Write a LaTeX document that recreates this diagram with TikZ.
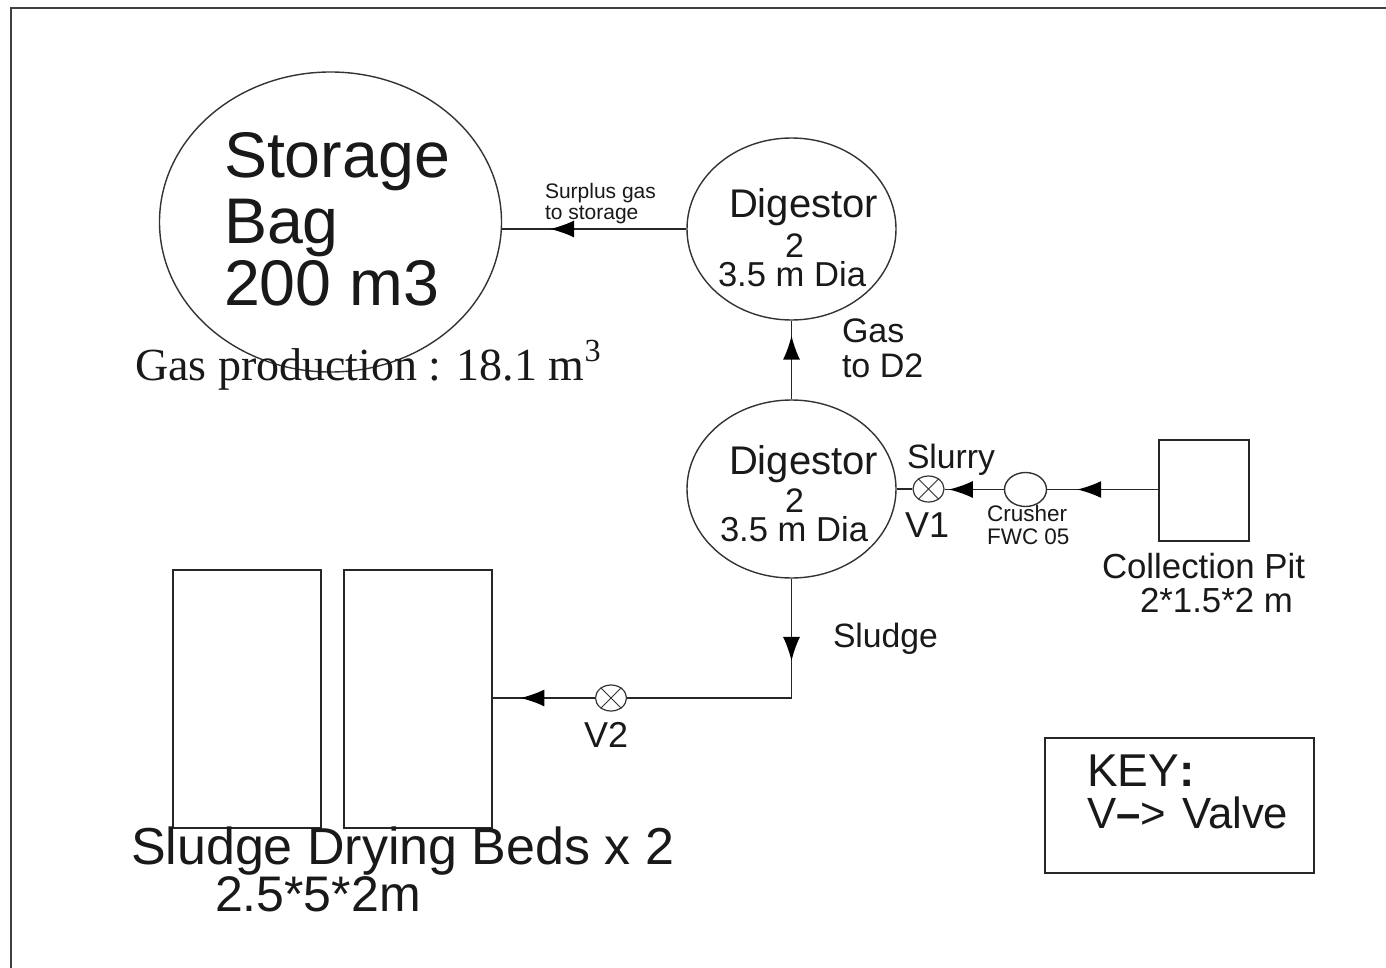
\documentclass[tikz,border=0pt]{standalone}
\usepackage{fontspec}
\setmainfont{Liberation Sans}
\newfontfamily\serifface{Liberation Serif}
\usetikzlibrary{arrows.meta,decorations.markings,shapes.geometric}
\newcommand{\fs}[1]{\fontsize{\dimexpr#1pt/2\relax}{\dimexpr#1pt/2\relax}\selectfont}
\tikzset{
  vessel/.style={draw=black!80,line width=0.7pt,ellipse,inner sep=0pt,minimum width=#1},
  tank/.style={draw=black!85,line width=0.8pt,rectangle,inner sep=0pt},
  pipe/.style={draw=black!85,line width=0.7pt},
  tipat/.style={postaction={decorate},decoration={markings,mark=at position #1 with {\arrow{Latex[length=12pt,width=8.5pt,black]}}}},
  lbl/.style={anchor=base west,inner sep=0pt,outer sep=0pt,text=black!90},
  valve/.style={draw=black!80,line width=0.6pt,ellipse,inner sep=0pt,minimum width=15.5pt,minimum height=13pt}
}
\begin{document}
\begin{tikzpicture}[x=0.5pt,y=-0.5pt]
\useasboundingbox (0,0) rectangle (1386,968);
\fill[white] (0,0) rectangle (1386,968);
% page frame
\coordinate (fa) at (11,968);
\coordinate (fb) at (11,8);
\coordinate (fc) at (1386,8);
\draw[black!75,line width=1pt] (fa) -- (fb) -- (fc);
% vessels
\node[vessel=171pt,minimum height=150pt] (bag) at (330.5,222) {};
\node[vessel=104.5pt,minimum height=91pt] (d1) at (791.5,229) {};
\node[vessel=104.5pt,minimum height=89pt] (d2) at (791.5,489) {};
\node[valve] (v1) at (928.5,489) {};
\draw[black!80,line width=0.5pt] (v1.45) -- (v1.225) (v1.135) -- (v1.315);
\node[vessel=21pt,minimum height=17pt] (cr) at (1025.5,489.5) {};
\node[tank,minimum width=45pt,minimum height=50.5pt] (pit) at (1204,490.5) {};
\node[tank,minimum width=74pt,minimum height=129pt] (bed1) at (247,699) {};
\node[tank,minimum width=74pt,minimum height=129pt] (bed2) at (418,699) {};
\node[valve] (v2) at (611,698) {};
\draw[black!80,line width=0.5pt] (v2.45) -- (v2.225) (v2.135) -- (v2.315);
\node[tank,minimum width=134.5pt,minimum height=67.5pt] (key) at (1179.5,805.5) {};
% connectors
\draw[pipe,tipat=0.74] (d1.west) -- (d1.west -| bag.east);
\draw[pipe,tipat=0.81] (d2.north) -- (d1.south);
\draw[pipe] (v1.west) -- (v1.west -| d2.east);
\draw[pipe,tipat=0.93] (cr.west) -- (cr.west -| v1.east);
\draw[pipe,tipat=0.73] (cr.east -| pit.west) -- (cr.east);
\coordinate (bend) at (d2.south |- v2.east);
\draw[pipe,tipat=0.29] (d2.south) -- (bend) -- (v2.east);
\draw[pipe,tipat=0.73] (v2.west) -- (v2.west -| bed2.east);
% labels
\node[lbl,font=\fs{64.5}] (t1) at (224,178) {Storage};
\node[lbl,font=\fs{64.5}] (t2) at (224,243) {Bag};
\node[lbl,font=\fs{64.5}] (t3) at (224,306) {200 m3};
\node[lbl,font=\serifface\fs{46}] (t4) at (135,380) {Gas production : 18.1 m\textsuperscript{3}};
\node[lbl,font=\fs{21}] (t5) at (545,199) {Surplus gas};
\node[lbl,font=\fs{21}] (t6) at (545,220) {to storage};
\node[lbl,font=\fs{40}] (t7) at (729,218) {Digestor};
\node[lbl,font=\fs{34}] (t8) at (785,257) {2};
\node[lbl,font=\fs{34.6}] (t9) at (718,286) {3.5 m Dia};
\node[lbl,font=\fs{34}] (t10) at (842,343) {Gas};
\node[lbl,font=\fs{34}] (t11) at (842,377) {to D2};
\node[lbl,font=\fs{40}] (t12) at (729,474) {Digestor};
\node[lbl,font=\fs{34}] (t13) at (785,512) {2};
\node[lbl,font=\fs{34.6}] (t14) at (720,541) {3.5 m Dia};
\node[lbl,font=\fs{33.7}] (t15) at (907,468) {Slurry};
\node[lbl,font=\fs{36}] (t16) at (905,537) {V1};
\node[lbl,font=\fs{22.5}] (t17) at (987,521) {Crusher};
\node[lbl,font=\fs{22.5}] (t18) at (987,544) {FWC 05};
\node[lbl,font=\fs{34.8}] (t19) at (1102,578) {Collection Pit};
\node[lbl,font=\fs{34.8}] (t20) at (1140,612) {2*1.5*2 m};
\node[lbl,font=\fs{33.7}] (t21) at (833,647) {Sludge};
\node[lbl,font=\fs{36}] (t22) at (584,747) {V2};
\node[lbl,font=\fs{52}] (t23) at (131,864) {Sludge Drying Beds x 2};
\node[lbl,font=\fs{50}] (t24) at (215,911) {2.5*5*2m};
\node[lbl,font=\fs{46}] (t25) at (1087,786) {KEY\textbf{:}};
\node[lbl,font=\fs{43.7}] (t26) at (1087,828) {V\textbf{--}>\hspace{2pt} Valve};
\end{tikzpicture}
\end{document}
